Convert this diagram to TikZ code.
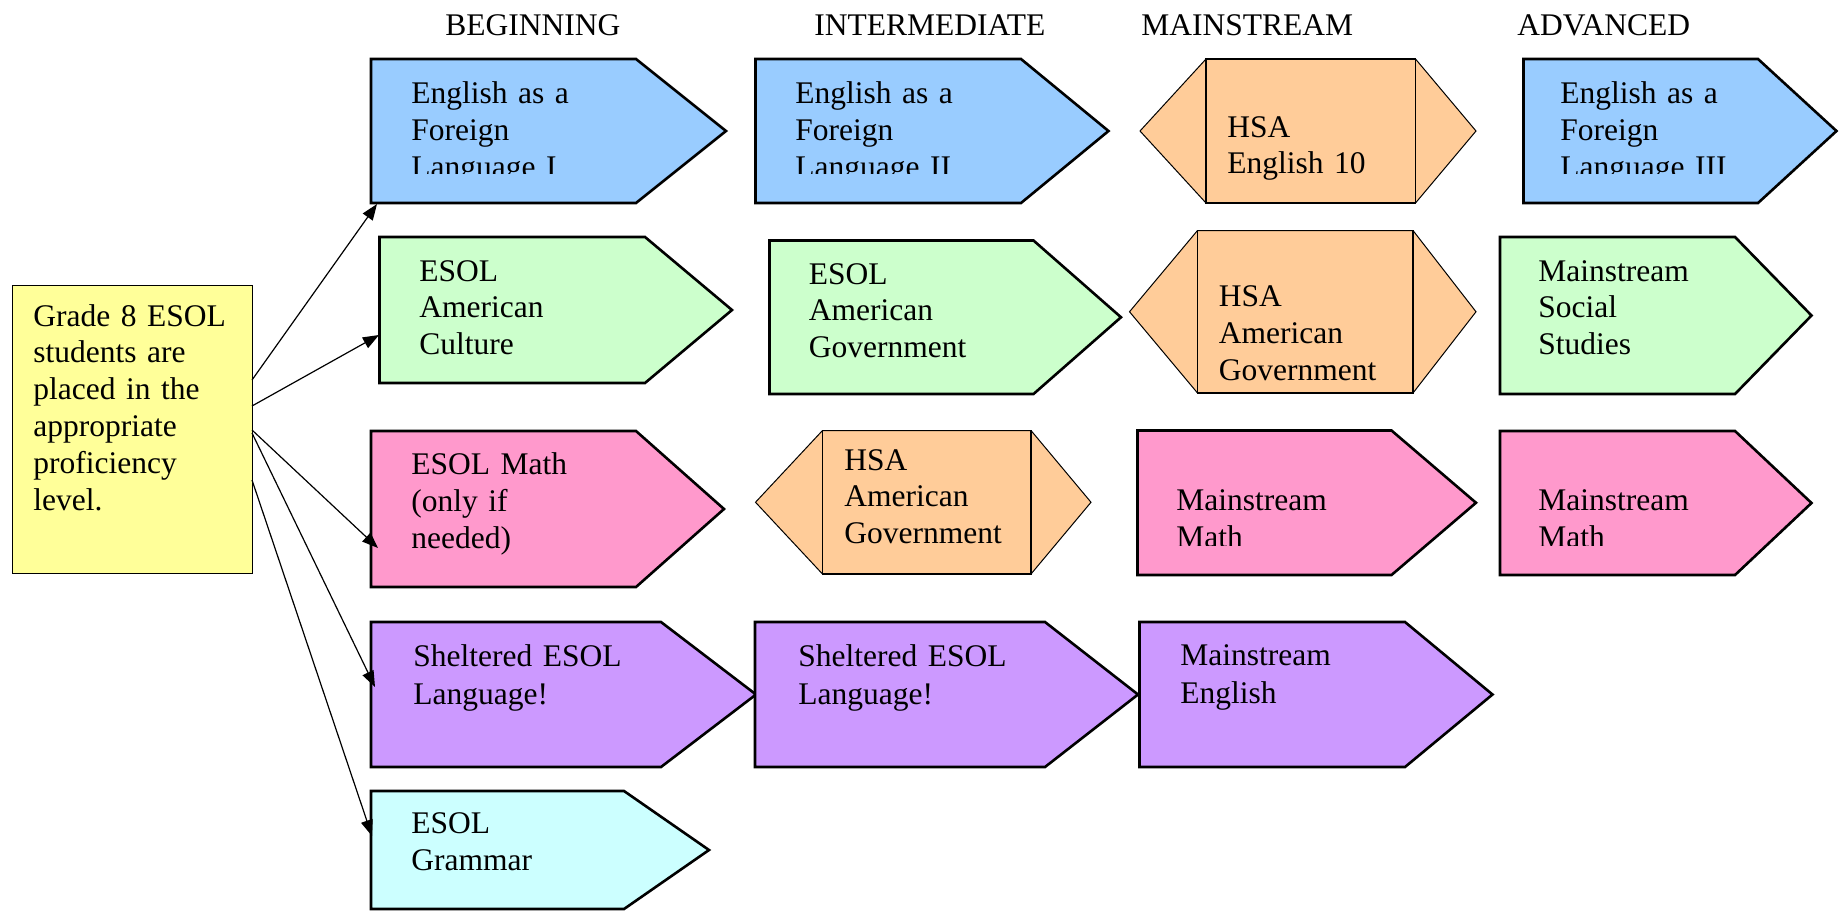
\documentclass[tikz,border=0pt]{standalone}
\usepackage{fontspec}
\setmainfont{Liberation Serif}
\usetikzlibrary{arrows.meta}
\definecolor{cblue}{HTML}{99CCFF}
\definecolor{cgreen}{HTML}{CCFFCC}
\definecolor{cpink}{HTML}{FF99CC}
\definecolor{corange}{HTML}{FFCC99}
\definecolor{cpurple}{HTML}{CC99FF}
\definecolor{ccyan}{HTML}{CCFFFF}
\definecolor{cyellow}{HTML}{FFFF99}
\tikzset{
  pent/.style={draw=black, line width=1.3pt, line join=miter},
  hexa/.style={draw=black, line width=0.5pt, fill=corange},
  hexrect/.style={draw=black, line width=0.8pt},
  txt/.style={anchor=base west, inner sep=0pt, text width=180pt, align=left,
    font=\fontsize{15.75pt}{18.25pt}\selectfont},
  txtb/.style={txt, font=\fontsize{15.75pt}{18.5pt}\selectfont},
  head/.style={anchor=base west, inner sep=0pt, font=\fontsize{15.75pt}{18pt}\selectfont},
  conn/.style={draw=black, line width=0.6pt, -{Triangle[length=8pt,width=6pt]}},
}
\newcommand{\pentshape}[6]{%
  \draw[pent, fill=#1] (#2,#5) -- (#3,#5) -- (#4,{(#5+#6)/2}) -- (#3,#6) -- (#2,#6) -- cycle;}
\newcommand{\hexshape}[6]{%
  \draw[hexa] (#1,{(#5+#6)/2}) -- (#2,#5) -- (#3,#5) -- (#4,{(#5+#6)/2}) -- (#3,#6) -- (#2,#6) -- cycle;
  \draw[hexrect] (#2,#5) rectangle (#3,#6);}
\begin{document}
\begin{tikzpicture}[x=0.5pt, y=-0.5pt]
\useasboundingbox (0,0) rectangle (1847,911);

% headers
\node[head] (hbeg) at (445,35) {BEGINNING};
\node[head] (hint) at (814,35) {INTERMEDIATE};
\node[head] (hmain) at (1141,35) {MAINSTREAM};
\node[head] (hadv) at (1517,35) {ADVANCED};

% start box
\node[draw=black, line width=0.7pt, fill=cyellow, minimum width=120pt, minimum height=144pt, inner sep=0pt, anchor=north west] (start) at (12,285) {};
\node[txt, font=\fontsize{15.75pt}{18.4pt}\selectfont] (starttxt) at (33,326) {Grade 8 ESOL\\students are\\placed in the\\appropriate\\proficiency\\level.};

% row 1
\pentshape{cblue}{371}{636}{726}{59}{203}
\begin{scope}\clip (371,59) rectangle (726,173);
\node[txtb] (efl1) at (411,103) {English as a\\Foreign\\Language I};
\end{scope}
\pentshape{cblue}{755.5}{1021}{1108.5}{59}{203}
\begin{scope}\clip (755,59) rectangle (1108,173);
\node[txtb] (efl2) at (795,103) {English as a\\Foreign\\Language II};
\end{scope}
\hexshape{1140}{1206}{1415.5}{1476}{59}{203}
\node[txt] (hsa1) at (1227,137) {HSA\\English 10};
\pentshape{cblue}{1523.5}{1758}{1836.5}{59}{203}
\begin{scope}\clip (1523,59) rectangle (1836,173);
\node[txtb] (efl3) at (1560,103) {English as a\\Foreign\\Language III};
\end{scope}

% row 2
\pentshape{cgreen}{379.5}{645}{732}{237}{383}
\begin{scope}\clip (379,237) rectangle (732,356);
\node[txt, font=\fontsize{15.75pt}{18.25pt}\selectfont] (eac) at (419,281) {ESOL\\American\\Culture};
\end{scope}
\pentshape{cgreen}{769.5}{1033.5}{1121}{240.5}{394}
\node[txt, font=\fontsize{15.75pt}{18.25pt}\selectfont] (eag) at (808.5,284) {ESOL\\American\\Government};
\hexshape{1129.5}{1197.5}{1413}{1476}{230.5}{393}
\node[txt, font=\fontsize{15.75pt}{18.5pt}\selectfont] (hsa2) at (1218.5,306) {HSA\\American\\Government};
\pentshape{cgreen}{1500}{1735}{1811.5}{237}{394}
\node[txt] (mss) at (1538,281) {Mainstream\\Social\\Studies};

% row 3
\pentshape{cpink}{371}{636}{724}{431}{587}
\node[txt, font=\fontsize{15.75pt}{18.5pt}\selectfont] (emath) at (411,474) {ESOL Math\\(only if\\needed)};
\hexshape{755.5}{822.5}{1031}{1091}{430.5}{574}
\node[txt] (hsa3) at (844,470) {HSA\\American\\Government};
\pentshape{cpink}{1137.5}{1391.5}{1476}{430.5}{575}
\begin{scope}\clip (1137,431) rectangle (1476,545);
\node[txt, font=\fontsize{15.75pt}{18.5pt}\selectfont] (mm1) at (1176,510) {Mainstream\\Math};
\end{scope}
\pentshape{cpink}{1500}{1735}{1811.5}{431}{575}
\begin{scope}\clip (1500,431) rectangle (1811,545);
\node[txt, font=\fontsize{15.75pt}{18.5pt}\selectfont] (mm2) at (1538,510) {Mainstream\\Math};
\end{scope}

% row 4
\pentshape{cpurple}{371}{661}{756}{622}{767}
\node[txt, font=\fontsize{15.75pt}{19pt}\selectfont] (sel1) at (413,666) {Sheltered ESOL\\Language!};
\pentshape{cpurple}{755}{1045}{1138}{622}{767}
\node[txt, font=\fontsize{15.75pt}{19pt}\selectfont] (sel2) at (798,666) {Sheltered ESOL\\Language!};
\pentshape{cpurple}{1139.5}{1405}{1492.5}{622}{767}
\node[txt, font=\fontsize{15.75pt}{19pt}\selectfont] (meng) at (1180,665) {Mainstream\\English};

% row 5
\pentshape{ccyan}{371}{624}{709}{791}{909}
\node[txt, font=\fontsize{15.75pt}{18.5pt}\selectfont] (egram) at (411,833) {ESOL\\Grammar};

% connectors
\coordinate (s1) at (252,380);
\coordinate (s2) at (252,406);
\coordinate (s3) at (252,430);
\coordinate (s4) at (252,433);
\coordinate (s5) at (252,480);
\coordinate (t1) at (377,204);
\coordinate (t2) at (379,335);
\coordinate (t3) at (378,548);
\coordinate (t4) at (375,687);
\coordinate (t5) at (372,836);
\draw[conn] (s1) -- (t1);
\draw[conn] (s2) -- (t2);
\draw[conn] (s3) -- (t3);
\draw[conn] (s4) -- (t4);
\draw[conn] (s5) -- (t5);
\end{tikzpicture}
\end{document}
